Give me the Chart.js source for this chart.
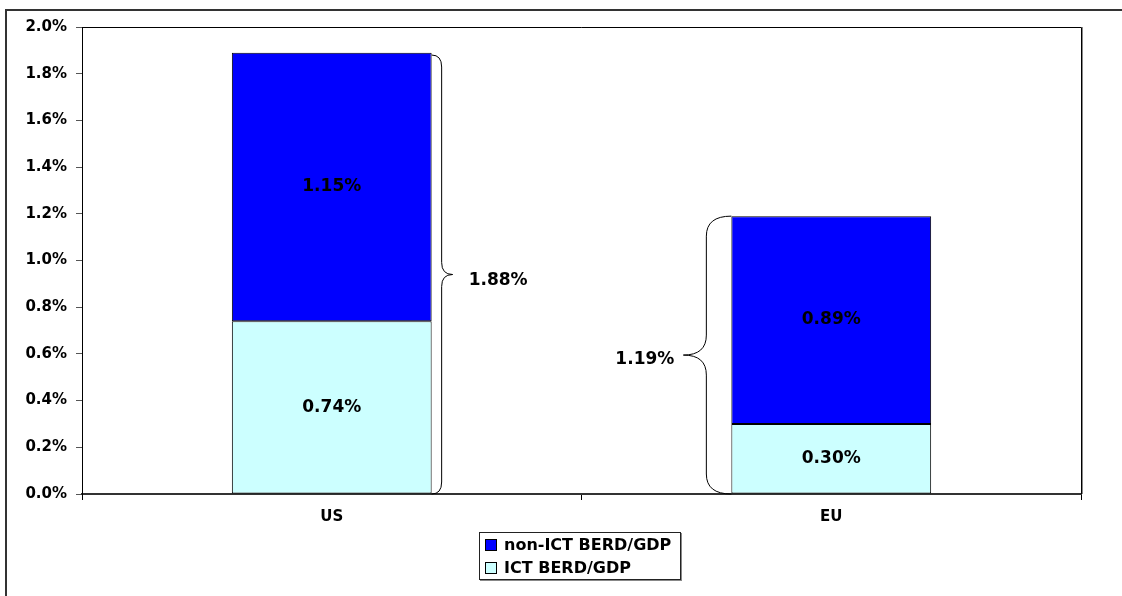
<!DOCTYPE html>
<html>
<head>
<meta charset="utf-8">
<script src="https://cdn.jsdelivr.net/npm/chart.js@4.4.1/dist/chart.umd.min.js"></script>
<style>
  body { margin: 0; background: #fff; }
  #wrap { position: relative; width: 1122px; height: 596px; }
  #legend {
    position: absolute; left: 479px; top: 532px; width: 200px;
    border: 1px solid #222; box-shadow: 1px 1px 0 #888; background: #fff;
    font: bold 16px "DejaVu Sans", sans-serif; color: #000;
  }
  #legend .row { display: flex; align-items: center; height: 23px; padding-left: 5px; }
  #legend .sw { width: 10px; height: 10px; border: 1px solid #000; margin-right: 7px; }
</style>
</head>
<body>
<div id="wrap">
  <canvas id="berdChart"></canvas>
  <div id="legend"></div>
</div>
<script>
// data (% of GDP)
const regions = ['US', 'EU'];
const ictBerd = [0.74, 0.30];
const nonIctBerd = [1.15, 0.89];
const totalBerd = [1.88, 1.19];
const yTicks = [0, 0.2, 0.4, 0.6, 0.8, 1.0, 1.2, 1.4, 1.6, 1.8, 2.0];

const FONT = '"DejaVu Sans", sans-serif';

// outer frame + plot frame (top and right)
const framePlugin = {
    id: 'frame',
    beforeDraw(chart) {
        const ctx = chart.ctx;
        ctx.save();
        ctx.strokeStyle = '#333';
        ctx.lineWidth = 2;
        ctx.beginPath();
        ctx.moveTo(6, 596);
        ctx.lineTo(6, 10);
        ctx.lineTo(1122, 10);
        ctx.stroke();
        ctx.restore();
    },
    afterDraw(chart) {
        const ctx = chart.ctx;
        const a = chart.chartArea;
        ctx.save();
        ctx.lineWidth = 1;
        ctx.strokeStyle = '#888';
        ctx.beginPath();
        ctx.moveTo(a.right + 1.5, a.top);
        ctx.lineTo(a.right + 1.5, a.bottom);
        ctx.stroke();
        ctx.strokeStyle = '#000';
        ctx.beginPath();
        ctx.moveTo(a.left, a.top + 0.5);
        ctx.lineTo(a.right + 0.5, a.top + 0.5);
        ctx.lineTo(a.right + 0.5, a.bottom);
        ctx.stroke();
        ctx.restore();
    }
};

// value labels in the middle of each segment
const segmentLabels = {
    id: 'segmentLabels',
    afterDatasetsDraw(chart) {
        const ctx = chart.ctx;
        ctx.save();
        ctx.font = 'bold 17px ' + FONT;
        ctx.fillStyle = '#000';
        ctx.textAlign = 'center';
        ctx.textBaseline = 'middle';
        chart.data.datasets.forEach(function(ds, i) {
            chart.getDatasetMeta(i).data.forEach(function(bar, j) {
                ctx.fillText(ds.data[j].toFixed(2) + '%', bar.x, (bar.y + bar.base) / 2);
            });
        });
        ctx.restore();
    }
};

// curly braces with the total next to each bar
const braces = {
    id: 'braces',
    afterDatasetsDraw(chart) {
        const ctx = chart.ctx;
        const yScale = chart.scales.y;
        const bars = chart.getDatasetMeta(1).data;
        // US brace on the right, EU brace on the left
        const shape = [
            { dir: 1, depth: 10, tip: 11, r: 12, gap: 16, dy: 6 },
            { dir: -1, depth: 25, tip: 23, r: 20, gap: 9, dy: 5 }
        ];
        ctx.save();
        ctx.strokeStyle = '#000';
        ctx.lineWidth = 1;
        bars.forEach(function(bar, j) {
            const s = shape[j];
            const xEdge = bar.x + s.dir * bar.width / 2;
            const yTop = yScale.getPixelForValue(totalBerd[j]);
            const yBot = yScale.getPixelForValue(0);
            const xv = xEdge + s.dir * s.depth;
            const xt = xv + s.dir * s.tip;
            const m = (yTop + yBot) / 2;
            ctx.beginPath();
            ctx.moveTo(xEdge, yTop);
            ctx.quadraticCurveTo(xv, yTop, xv, yTop + s.r);
            ctx.lineTo(xv, m - s.r);
            ctx.quadraticCurveTo(xv, m, xt, m);
            ctx.quadraticCurveTo(xv, m, xv, m + s.r);
            ctx.lineTo(xv, yBot - s.r);
            ctx.quadraticCurveTo(xv, yBot, xEdge, yBot);
            ctx.stroke();

            ctx.font = 'bold 17px ' + FONT;
            ctx.fillStyle = '#000';
            ctx.textBaseline = 'middle';
            ctx.textAlign = s.dir > 0 ? 'left' : 'right';
            ctx.fillText(totalBerd[j].toFixed(2) + '%', xt + s.dir * s.gap, m + s.dy);
        });
        ctx.restore();
    }
};

const ctxBerd = document.getElementById('berdChart');

const berdChart = new Chart(ctxBerd, {
    type: 'bar',
    data: {
        labels: regions,
        datasets: [{
            label: 'ICT BERD/GDP',
            data: ictBerd,
            backgroundColor: '#CCFFFF',
            borderColor: '#000',
            borderWidth: 1,
            borderSkipped: false
        }, {
            label: 'non-ICT BERD/GDP',
            data: nonIctBerd,
            backgroundColor: '#0000FF',
            borderColor: '#000',
            borderWidth: 1,
            borderSkipped: false
        }]
    },
    options: {
        responsive: true,
        maintainAspectRatio: false,
        animation: false,
        layout: { padding: { left: 6, top: 27, right: 41, bottom: 62 } },
        datasets: { bar: { barPercentage: 0.4, categoryPercentage: 1.0 } },
        plugins: {
            legend: { display: false },
            tooltip: { enabled: false }
        },
        scales: {
            x: {
                stacked: true,
                grid: { display: true, drawOnChartArea: false, offset: true, tickLength: 6, color: '#000' },
                border: { color: '#333', width: 2 },
                ticks: { color: '#000', font: { family: FONT, size: 15, weight: 'bold' }, padding: 8 },
                afterFit: function(scale) { scale.height = 40; }
            },
            y: {
                stacked: true,
                min: 0,
                max: 2.0,
                afterBuildTicks: function(scale) {
                    scale.ticks = yTicks.map(function(v) { return { value: v }; });
                },
                grid: { display: true, drawOnChartArea: false, tickLength: 6, color: '#555' },
                border: { color: '#000', width: 1 },
                ticks: {
                    color: '#000',
                    font: { family: FONT, size: 15, weight: 'bold' },
                    padding: 9,
                    callback: function(v) { return v.toFixed(1) + '%'; }
                },
                afterFit: function(scale) { scale.width = 76; }
            }
        }
    },
    plugins: [framePlugin, segmentLabels, braces]
});

// legend: non-ICT listed first
const legendBox = document.getElementById('legend');
berdChart.data.datasets.slice().reverse().forEach(function(ds) {
    const row = document.createElement('div');
    row.className = 'row';
    const sw = document.createElement('span');
    sw.className = 'sw';
    sw.style.background = ds.backgroundColor;
    const txt = document.createElement('span');
    txt.textContent = ds.label;
    row.appendChild(sw);
    row.appendChild(txt);
    legendBox.appendChild(row);
});
</script>
</body>
</html>
